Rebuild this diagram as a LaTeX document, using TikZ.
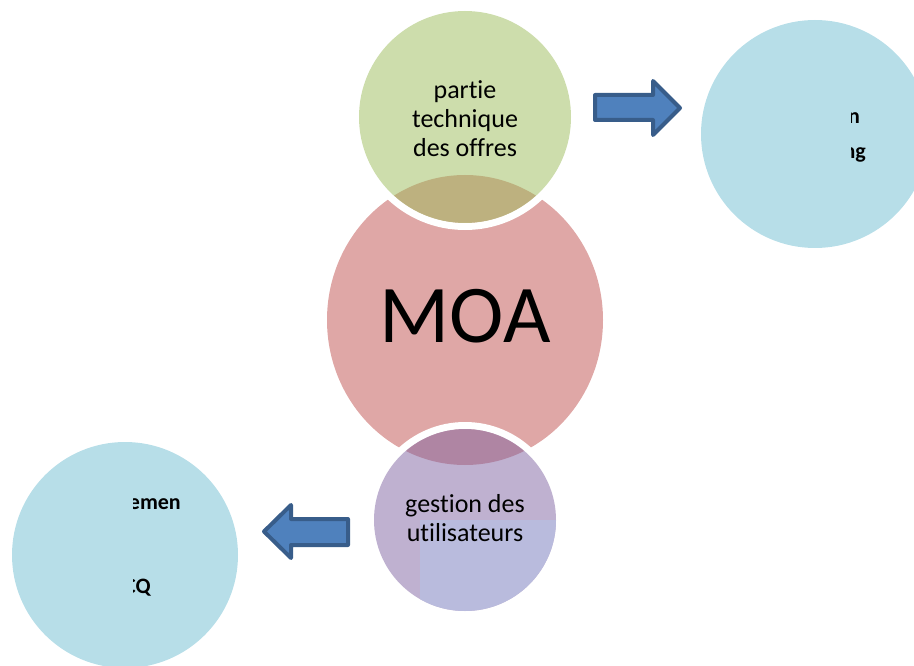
\documentclass[tikz,border=0pt]{standalone}
\usepackage{fontspec}
\setmainfont[Ligatures={NoCommon}]{Carlito}
\usetikzlibrary{shapes.geometric}
\definecolor{moared}{HTML}{C0504D}
\definecolor{techgreen}{HTML}{9BBB59}
\definecolor{userpurple}{HTML}{8064A2}
\definecolor{aqua}{HTML}{B7DEE8}
\definecolor{lilac}{HTML}{B9BBDD}
\definecolor{arrowfill}{HTML}{4F81BD}
\definecolor{arrowline}{HTML}{385D8A}
\begin{document}
\begin{tikzpicture}[x=1pt,y=-1pt,
  bubble/.style={circle, inner sep=0pt, fill opacity=0.5},
  ring/.style={circle, inner sep=0pt, draw=white, line width=7pt},
  aquabubble/.style={circle, inner sep=0pt, fill=aqua},
  lbl/.style={align=center, inner sep=0pt, font=\fontsize{26}{29}\selectfont},
  side/.style={anchor=base east, inner sep=0pt, font=\bfseries\fontsize{22}{24}\selectfont},
  blockarrow/.style={fill=arrowfill, draw=arrowline, line width=4pt, line join=round}]
\useasboundingbox (0,0) rectangle (914,666);
\clip (0,0) rectangle (914,666);

% side bubbles
\node[aquabubble, minimum size=228pt] (tr) at (815,134) {};
\node[aquabubble, minimum size=226pt] (bl) at (125,555) {};

% central MOA
\node[ellipse, minimum width=276pt, minimum height=290pt, inner sep=0pt,
      fill=moared, fill opacity=0.5] (moa) at (465,320) {};

% top bubble
\node[ring, minimum size=219pt] (techring) at (465,117) {};
\node[bubble, fill=techgreen, minimum size=212pt] (tech) at (465,117) {};

% bottom bubble
\node[ring, minimum size=189pt] (userring) at (465,520) {};
\node[bubble, fill=userpurple, minimum size=182pt] (user) at (465,520) {};
\begin{scope}
  \clip (465,520) circle (91);
  \fill[lilac] (420,520) rectangle (570,620);
\end{scope}

% texts
\node[lbl] (techtext) at (465,119) {partie\\technique\\des offres};
\node[inner sep=0pt, font=\fontsize{82}{90}\selectfont] (moatext) at (465,316.5) {MOA};
\node[lbl] (usertext) at (465,518) {gestion des\\utilisateurs};

\begin{scope}
  \clip (851,100) rectangle (914,175);
  \node[side] (trA) at (860,124) {on};
  \node[side] (trB) at (866,159) {ng};
\end{scope}
\begin{scope}
  \clip (133,480) rectangle (240,610);
  \node[side] (blA) at (181,509) {emen};
  \node[side] (blB) at (151,593) {CQ};
\end{scope}

% block arrows
\draw[blockarrow] (595,95) -- (653,95) -- (653,81) -- (680,108) -- (653,135)
  -- (653,120) -- (595,120) -- cycle;
\draw[blockarrow] (348,519) -- (291,519) -- (291,505) -- (264,531.5) -- (291,558)
  -- (291,545) -- (348,545) -- cycle;
\end{tikzpicture}
\end{document}
